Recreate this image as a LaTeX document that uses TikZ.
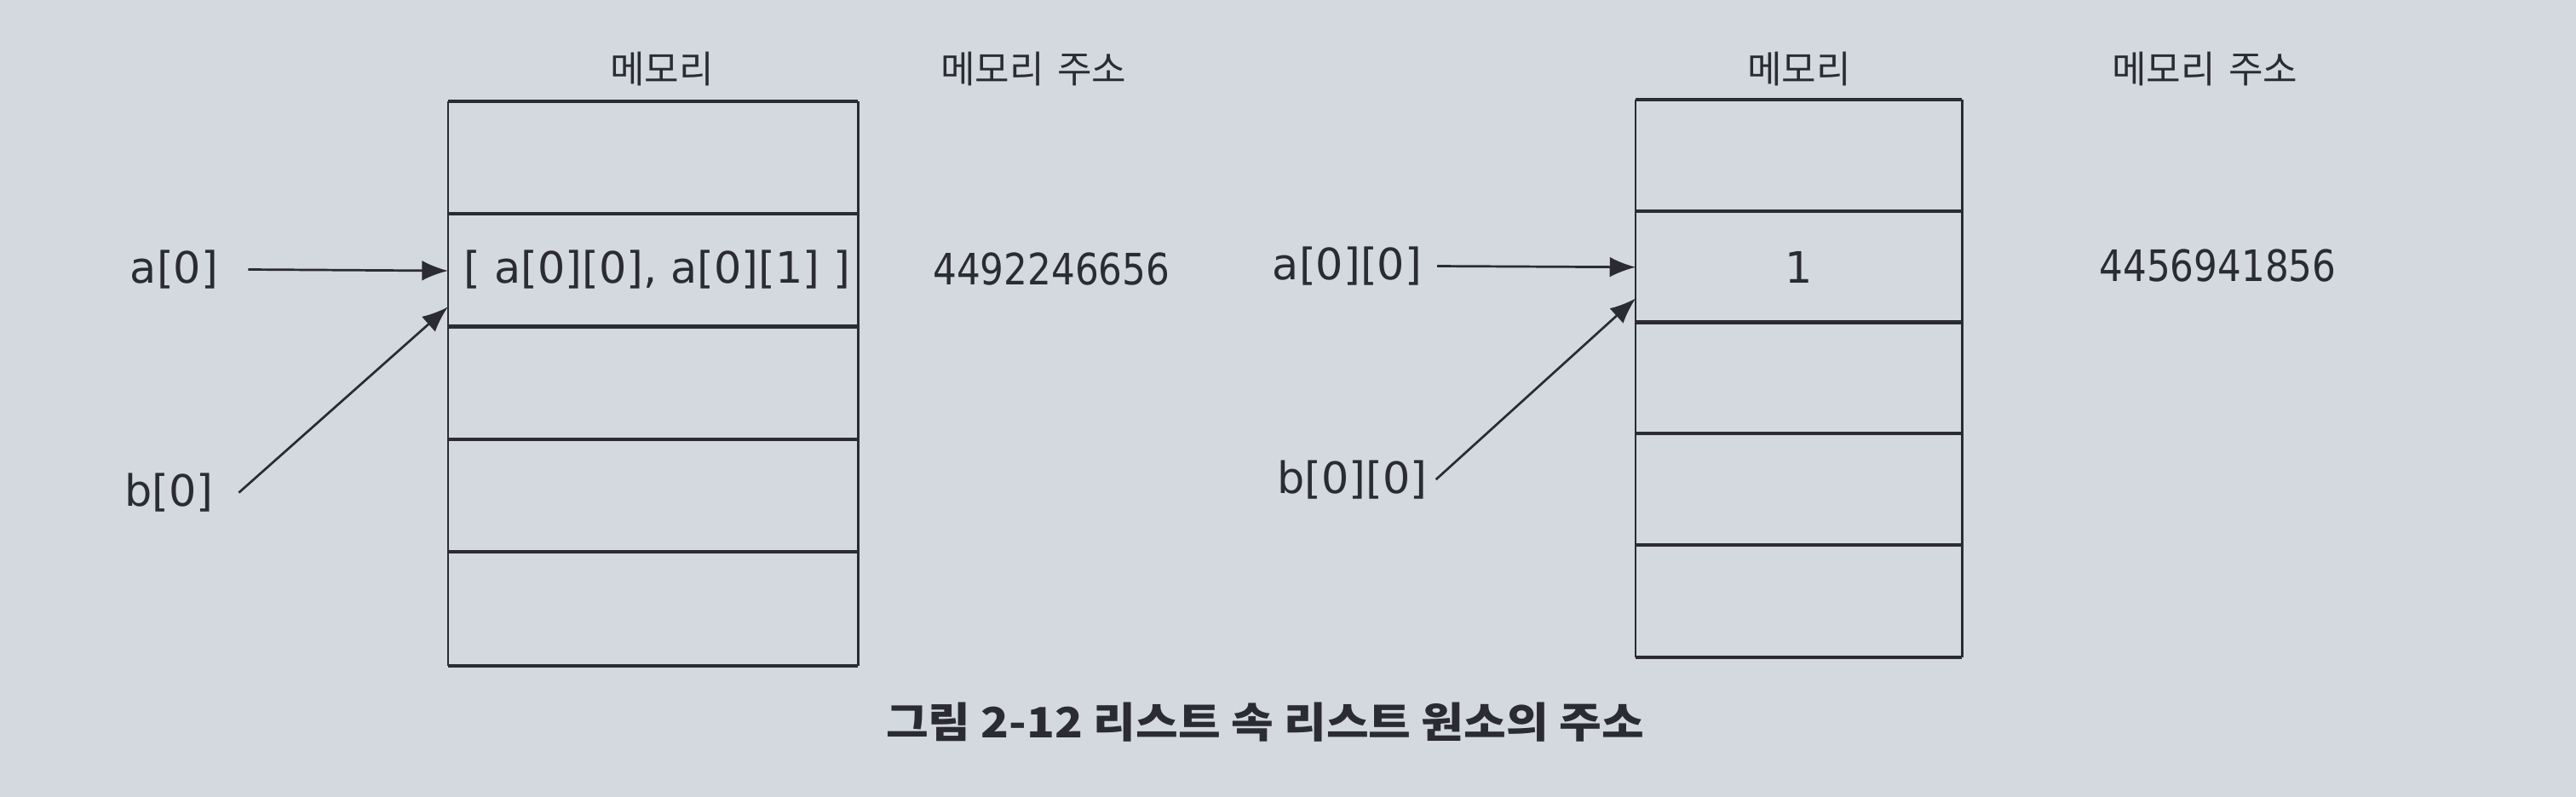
\documentclass[tikz,border=0pt]{standalone}
\usepackage{fontspec}
\setmainfont{DejaVu Sans}
\newfontfamily\numfont[FakeStretch=0.86]{DejaVu Sans}
\newfontfamily\krfont{Noto Sans CJK KR}
\newfontfamily\capfont[FakeStretch=1.1]{Noto Sans CJK KR}
\usetikzlibrary{arrows.meta}
\definecolor{paper}{RGB}{212,216,223}
\definecolor{ink}{RGB}{42,44,50}
\begin{document}
\begin{tikzpicture}[x=0.02cm,y=-0.02cm,
  lbl/.style={font=\fontsize{15}{18}\selectfont, text=ink, inner sep=0},
  num/.style={font=\numfont\fontsize{15}{18}\selectfont, text=ink, inner sep=0},
  kr/.style={font=\krfont\fontsize{13}{16}\selectfont, text=ink, inner sep=0},
  captext/.style={font=\capfont\bfseries\fontsize{14.5}{17}\selectfont, text=ink, inner sep=0},
  lcell/.style={minimum width=4.98cm, minimum height=1.372cm, inner sep=0},
  rcell/.style={minimum width=3.96cm, minimum height=1.356cm, inner sep=0},
  hline/.style={draw=ink, line width=1.3pt},
  vline/.style={draw=ink, line width=0.7pt},
  ptr/.style={draw=ink, line width=0.8pt, -{Latex[length=9pt,width=7pt]}}
]
\fill[paper] (0,0) rectangle (1568,485.33);
\useasboundingbox (0,0) rectangle (1568,485.33);

% left memory column
\node[lcell] (L1) at (397.5,96.3) {};
\node[lcell] (L2) at (397.5,164.9) {};
\node[lcell] (L3) at (397.5,233.5) {};
\node[lcell] (L4) at (397.5,302.1) {};
\node[lcell] (L5) at (397.5,370.7) {};
\foreach \c in {L1,L2,L3,L4,L5}{\draw[hline] (\c.north west) -- (\c.north east);}
\draw[hline] (L5.south west) -- (L5.south east);
\draw[vline] (L1.north west) -- (L5.south west);
\draw[vline] (L1.north east) -- (L5.south east);
\node[lbl] (L2t) at (400,164) {[ a[0][0], a[0][1] ]};

\node[kr] (Lhead) at (403,42) {메모리};
\node[kr] (Lahead) at (629,42) {메모리\hspace{0.35em}주소};
\node[num] (Laddr) at (640,164) {4492246656};
\node[lbl] (a0) at (106,164) {a[0]};
\node[lbl] (b0) at (103,300) {b[0]};
\coordinate (btipL) at ([yshift=-0.44cm]L2.west);
\draw[ptr, shorten <=0.36cm] (a0.east) -- (L2.west);
\draw[ptr] ([xshift=0.3cm]b0.east) -- (btipL);

% right memory column
\node[rcell] (R1) at (1095,94.9) {};
\node[rcell] (R2) at (1095,162.7) {};
\node[rcell] (R3) at (1095,230.5) {};
\node[rcell] (R4) at (1095,298.3) {};
\node[rcell] (R5) at (1095,366.1) {};
\foreach \c in {R1,R2,R3,R4,R5}{\draw[hline] (\c.north west) -- (\c.north east);}
\draw[hline] (R5.south west) -- (R5.south east);
\draw[vline] (R1.north west) -- (R5.south west);
\draw[vline] (R1.north east) -- (R5.south east);
\node[lbl] (R2t) at (R2) {1};

\node[kr] (Rhead) at (1095,42) {메모리};
\node[kr] (Rahead) at (1342,42) {메모리\hspace{0.35em}주소};
\node[num] (Raddr) at (1350,162) {4456941856};
\node[lbl] (a00) at (820,162) {a[0][0]};
\node[lbl] (b00) at (823,292) {b[0][0]};
\coordinate (btipR) at ([yshift=-0.38cm]R2.west);
\draw[ptr, shorten <=0.18cm] (a00.east) -- (R2.west);
\draw[ptr] ([xshift=0.1cm]b00.east) -- (btipR);

% caption
\node[captext] (caption) at (770,440) {그림 2-12 리스트 속 리스트 원소의 주소};
\end{tikzpicture}
\end{document}
